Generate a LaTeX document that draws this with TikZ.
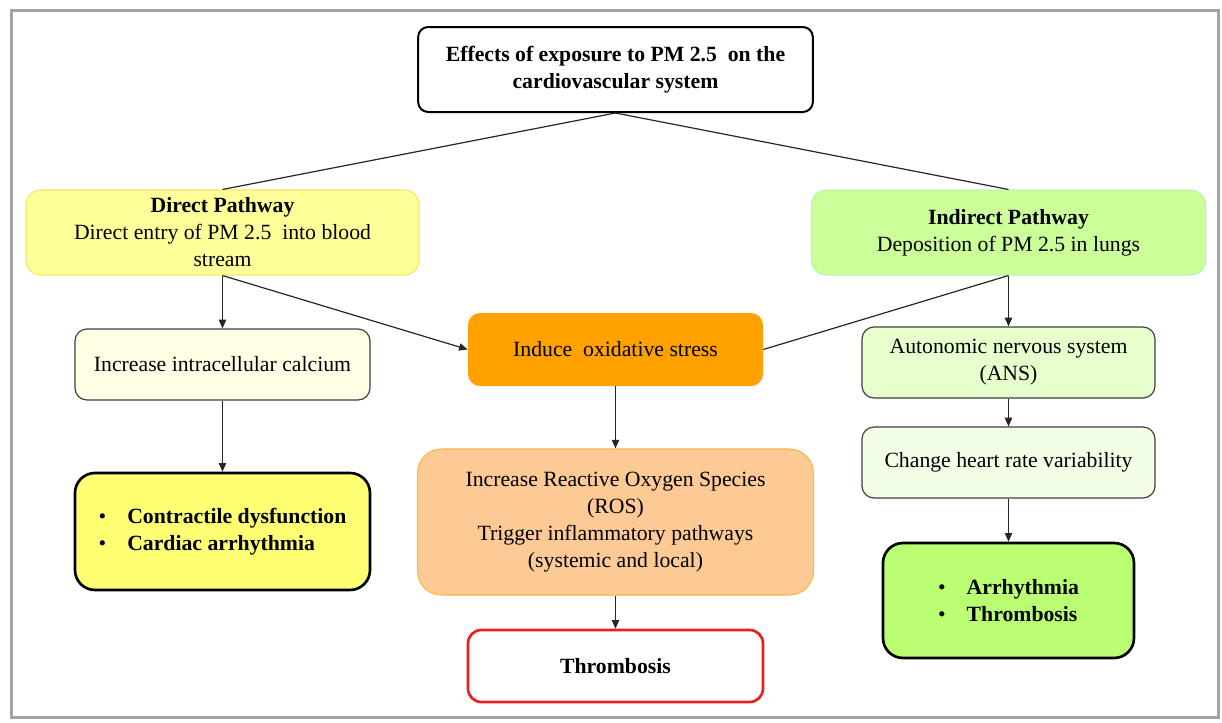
\documentclass[tikz,border=0pt]{standalone}
\usepackage{fontspec}
\setmainfont{Liberation Serif}
\usetikzlibrary{arrows.meta}
\definecolor{frame}{HTML}{A3A3A3}
\definecolor{dirfill}{HTML}{FFFF99}
\definecolor{dirdraw}{HTML}{F5E56A}
\definecolor{indfill}{HTML}{CCFF99}
\definecolor{inddraw}{HTML}{B5F7B0}
\definecolor{calfill}{HTML}{FFFFE6}
\definecolor{confill}{HTML}{FFFF73}
\definecolor{oxfill}{HTML}{FFA200}
\definecolor{rosfill}{HTML}{FDC994}
\definecolor{rosdraw}{HTML}{FFB547}
\definecolor{thrdraw}{HTML}{E82020}
\definecolor{ansfill}{HTML}{E6FFCC}
\definecolor{hrvfill}{HTML}{F2FFE6}
\definecolor{arrfill}{HTML}{BAFF72}
\definecolor{darkedge}{HTML}{404040}
\begin{document}
\begin{tikzpicture}[x=0.75pt,y=-0.75pt,
  txt/.style={align=center, inner sep=2pt, font=\fontsize{16.3}{20.25}\selectfont, text=black},
  titlebox/.style={txt, rectangle, rounded corners=7.5pt, draw=black, line width=1.5pt, fill=white, font=\fontsize{16.3}{20.25}\selectfont\bfseries},
  pathbox/.style={txt, rectangle, rounded corners=11pt, line width=0.8pt},
  midbox/.style={txt, rectangle, rounded corners=9pt, draw=darkedge, line width=0.9pt},
  resbox/.style={txt, rectangle, rounded corners=15pt, draw=black, line width=2pt, font=\fontsize{16.3}{20.25}\selectfont\bfseries},
  conn/.style={line width=0.9pt, draw=black!85},
  arr/.style={conn, -{Triangle[length=6.5pt,width=5.5pt]}}]
\useasboundingbox (0,0) rectangle (1222,722);
\draw[frame, line width=2.25pt] (11,10) rectangle (1218,717);

\node[titlebox, minimum width=296pt, minimum height=63.75pt] (top) at (615.5,69.5)
  {Effects of exposure to PM 2.5\ \ on the\\cardiovascular system};

\node[pathbox, fill=dirfill, draw=dirdraw, minimum width=294.75pt, minimum height=63.75pt] (dir) at (222.5,232.5)
  {\textbf{Direct Pathway}\\Direct entry of PM 2.5\ \ into blood\\stream};

\node[pathbox, fill=indfill, draw=inddraw, minimum width=295.5pt, minimum height=63.75pt] (ind) at (1008.5,232.5)
  {\textbf{Indirect Pathway}\\Deposition of PM 2.5 in lungs};

\node[midbox, fill=calfill, minimum width=221.25pt, minimum height=53.25pt] (cal) at (222.5,364.5)
  {Increase intracellular calcium};

\node[resbox, fill=confill, minimum width=221.25pt, minimum height=87.75pt, align=left] (con) at (222.5,531.5)
  {\makebox[21.5pt][l]{\mdseries •}Contractile dysfunction\\\makebox[21.5pt][l]{\mdseries •}Cardiac arrhythmia};

\node[txt, rectangle, rounded corners=9pt, fill=oxfill, minimum width=221.25pt, minimum height=54.75pt] (ox) at (615.5,349.5)
  {Induce\ \ oxidative stress};

\node[txt, rectangle, rounded corners=18pt, fill=rosfill, draw=rosdraw, line width=0.8pt, minimum width=297pt, minimum height=109.5pt] (ros) at (615.5,522)
  {Increase Reactive Oxygen Species\\(ROS)\\Trigger inflammatory pathways\\(systemic and local)};

\node[txt, rectangle, rounded corners=10pt, fill=white, draw=thrdraw, line width=2pt, minimum width=221.25pt, minimum height=54pt, font=\fontsize{16.3}{20.25}\selectfont\bfseries] (thr) at (615.5,666)
  {Thrombosis};

\node[midbox, fill=ansfill, minimum width=219.75pt, minimum height=53.25pt] (ans) at (1008.5,362.5)
  {Autonomic nervous system\\(ANS)};

\node[midbox, fill=hrvfill, minimum width=219.75pt, minimum height=53.25pt] (hrv) at (1008.5,462.5)
  {Change heart rate variability};

\node[resbox, fill=arrfill, minimum width=188.25pt, minimum height=86.25pt, align=left] (arr) at (1008.5,600.5)
  {\makebox[21.5pt][l]{\mdseries •}Arrhythmia\\\makebox[21.5pt][l]{\mdseries •}Thrombosis};

\draw[conn] (top.south) -- (dir.north);
\draw[conn] (top.south) -- (ind.north);
\draw[arr] (dir.south) -- (cal.north);
\draw[arr] (dir.south) -- (ox.west);
\draw[conn] (ind.south) -- (ox.east);
\draw[arr] (ind.south) -- (ans.north);
\draw[arr] (ans.south) -- (hrv.north);
\draw[arr] (hrv.south) -- (arr.north);
\draw[arr] (cal.south) -- (con.north);
\draw[arr] (ox.south) -- (ros.north);
\draw[arr] (ros.south) -- (thr.north);
\end{tikzpicture}
\end{document}
